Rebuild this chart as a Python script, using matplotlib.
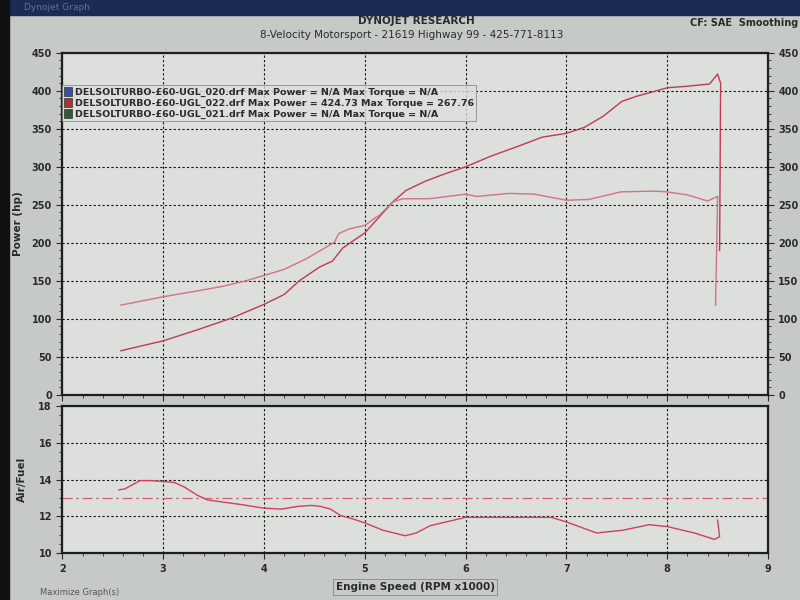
import matplotlib
matplotlib.use("Agg")
import matplotlib.pyplot as plt
from matplotlib.patches import Patch, Rectangle
from matplotlib.ticker import MultipleLocator

# ---------------- data ----------------
power_rpm = [2.58, 3.0, 3.35, 3.68, 4.0, 4.2, 4.35, 4.55, 4.68, 4.78, 4.9, 5.0, 5.15, 5.28,
             5.41, 5.6, 5.8, 6.0, 6.25, 6.5, 6.76, 7.0, 7.18, 7.37, 7.55, 7.7, 7.84, 8.0,
             8.2, 8.42, 8.5, 8.53, 8.52]
power_hp = [58, 71, 86, 101, 119, 132, 150, 168, 176, 193, 204, 213, 235, 254,
            269, 281, 291, 300, 314, 326, 339, 344, 352, 367, 386, 393, 398, 404,
            406, 409, 422, 410, 190]

torque_rpm = [2.58, 3.0, 3.35, 3.6, 3.82, 4.0, 4.2, 4.42, 4.6, 4.7, 4.74, 4.84, 5.0, 5.15,
              5.28, 5.38, 5.64, 6.0, 6.11, 6.43, 6.68, 7.0, 7.22, 7.54, 7.86, 8.0, 8.2,
              8.4, 8.5, 8.48]
torque_lbft = [118, 129, 137, 143, 150, 157, 165, 179, 193, 201, 212, 218, 223, 237,
               254, 258, 258, 264, 261, 265, 264, 256, 257, 267, 268, 267, 263,
               255, 261, 118]

afr_rpm = [2.56, 2.62, 2.77, 2.88, 3.0, 3.11, 3.21, 3.34, 3.44, 3.57, 3.77, 4.0, 4.17,
           4.34, 4.47, 4.56, 4.66, 4.76, 4.89, 5.0, 5.18, 5.4, 5.51, 5.65, 6.0, 6.33,
           6.85, 7.0, 7.3, 7.56, 7.82, 8.0, 8.27, 8.47, 8.52, 8.5]
afr_val = [13.45, 13.5, 13.95, 13.95, 13.9, 13.85, 13.6, 13.15, 12.9, 12.8, 12.65, 12.45,
           12.4, 12.55, 12.6, 12.55, 12.4, 12.05, 11.85, 11.65, 11.25, 10.95, 11.1, 11.5,
           11.95, 11.95, 11.95, 11.7, 11.1, 11.25, 11.55, 11.45, 11.1, 10.75, 10.9, 11.8]

afr_target = 13.0

legend_labels = [
    "DELSOLTURBO-\u00a360-UGL_020.drf Max Power = N/A Max Torque = N/A",
    "DELSOLTURBO-\u00a360-UGL_022.drf Max Power = 424.73 Max Torque = 267.76",
    "DELSOLTURBO-\u00a360-UGL_021.drf Max Power = N/A Max Torque = N/A",
]
legend_colors = ["#3a4fa0", "#a83434", "#2f5a34"]

x_ticks = [2, 3, 4, 5, 6, 7, 8, 9]
power_ticks = [0, 50, 100, 150, 200, 250, 300, 350, 400, 450]
afr_ticks = [10, 12, 14, 16, 18]

# ---------------- style ----------------
FIG_BG = "#c6cac6"
AX_BG = "#dcdfdb"
TXT = "#2a2a2a"
plt.rcParams["font.family"] = ["DejaVu Sans"]

fig = plt.figure(figsize=(8, 6), dpi=100, facecolor=FIG_BG)

# window chrome
fig.patches.append(Rectangle((0, 0.975), 1, 0.025, transform=fig.transFigure,
                             color="#1c2a55", zorder=0))
fig.patches.append(Rectangle((0, 0), 0.011, 1, transform=fig.transFigure,
                             color="#111111", zorder=0))
fig.text(0.03, 0.987, "Dynojet Graph", fontsize=6.5, color="#6a7088", va="center")

fig.text(0.52, 0.965, "DYNOJET RESEARCH", ha="center", va="center",
         fontsize=7.5, fontweight="bold", color=TXT)
fig.text(0.515, 0.942, "8-Velocity Motorsport - 21619 Highway 99 - 425-771-8113",
         ha="center", va="center", fontsize=7.5, color=TXT)
fig.text(0.998, 0.962, "CF: SAE  Smoothing", ha="right", va="center",
         fontsize=7, fontweight="bold", color=TXT)


def style_axes(ax):
    ax.set_facecolor(AX_BG)
    for s in ax.spines.values():
        s.set_color("#1e1e1e")
        s.set_linewidth(1.6)
    ax.grid(True, which="major", color="#111111", linestyle=(0, (2, 2)), linewidth=0.8)
    ax.tick_params(which="both", colors=TXT, labelsize=7)
    ax.tick_params(which="major", length=4)
    ax.tick_params(which="minor", length=2)
    for lab in ax.get_xticklabels() + ax.get_yticklabels():
        lab.set_fontweight("bold")


# ---------------- top: power / torque ----------------
ax1 = fig.add_axes([0.078, 0.342, 0.882, 0.570])
ax1.plot(power_rpm, power_hp, color="#c03a55", linewidth=1.0)
ax1.plot(torque_rpm, torque_lbft, color="#d27285", linewidth=1.0)
ax1.set_xlim(2, 9)
ax1.set_ylim(0, 450)
ax1.set_xticks(x_ticks)
ax1.set_xticklabels([])
ax1.set_yticks(power_ticks)
ax1.yaxis.set_minor_locator(MultipleLocator(10))
ax1.xaxis.set_minor_locator(MultipleLocator(0.2))
ax1.tick_params(axis="y", which="both", right=True, labelright=True)
style_axes(ax1)
for lab in ax1.get_yticklabels():
    lab.set_fontweight("bold")
ax1.set_ylabel("Power (hp)", fontsize=7.5, fontweight="bold", color=TXT, labelpad=6)

handles = [Patch(facecolor=c, edgecolor="#333333", linewidth=0.5) for c in legend_colors]
leg = ax1.legend(handles, legend_labels, loc="upper left", bbox_to_anchor=(0.0, 0.905),
                 fontsize=6.8, frameon=True, fancybox=False, handlelength=0.9,
                 handleheight=1.1, handletextpad=0.3, labelspacing=0.15,
                 borderpad=0.15, borderaxespad=0.0)
leg.get_frame().set_facecolor(AX_BG)
leg.get_frame().set_edgecolor("#777777")
leg.get_frame().set_linewidth(0.6)
for t in leg.get_texts():
    t.set_fontweight("bold")
    t.set_color(TXT)

# ---------------- bottom: air / fuel ----------------
ax2 = fig.add_axes([0.078, 0.078, 0.882, 0.245])
ax2.plot(afr_rpm, afr_val, color="#d0405e", linewidth=1.0)
ax2.axhline(afr_target, color="#cf5f74", linewidth=0.9, linestyle=(0, (8, 3, 2, 3)))
ax2.set_xlim(2, 9)
ax2.set_ylim(10, 18)
ax2.set_xticks(x_ticks)
ax2.set_yticks(afr_ticks)
ax2.xaxis.set_minor_locator(MultipleLocator(0.2))
ax2.yaxis.set_minor_locator(MultipleLocator(0.5))
style_axes(ax2)
ax2.set_ylabel("Air/Fuel", fontsize=7.5, fontweight="bold", color=TXT, labelpad=8)
ax2.set_xlabel("Engine Speed (RPM x1000)", fontsize=7.5, fontweight="bold", color=TXT,
               labelpad=6,
               bbox=dict(boxstyle="square,pad=0.25", facecolor=FIG_BG,
                         edgecolor="#888888", linewidth=0.6))

fig.text(0.05, 0.008, "Maximize Graph(s)", fontsize=6, color="#555555")

fig.savefig("out.png", dpi=100, facecolor=FIG_BG)
